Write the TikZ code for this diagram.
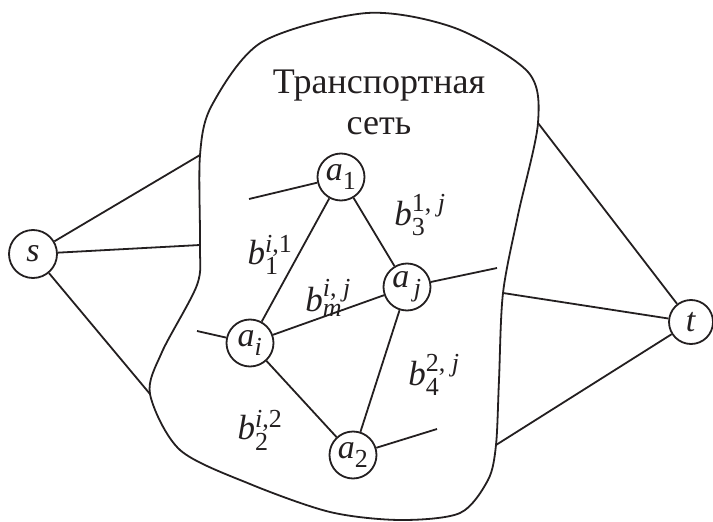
\documentclass[tikz,border=0pt]{standalone}
\usepackage{fontspec}
\setmainfont{Liberation Serif}
\usetikzlibrary{positioning}
\definecolor{ink}{HTML}{231F20}
\newcommand{\smallidx}[1]{\hbox{\fontsize{26}{30}\selectfont #1}}
\tikzset{
  vertex/.style  ={draw=ink, circle, line width=1.8pt, inner sep=0pt,
                   minimum size=47pt, text=ink,
                   font=\fontsize{34}{38}\selectfont},
  link/.style    ={draw=ink, line width=1.8pt},
  weight/.style  ={text=ink, inner sep=0pt,
                   font=\fontsize{35}{38}\selectfont},
  netname/.style ={text=ink, align=center,
                   font=\fontsize{36}{41}\selectfont},
}

\begin{document}
\begin{tikzpicture}[x=1pt, y=-1pt]
    \useasboundingbox (0,0) rectangle (713,522);

    % contour of the network
    \coordinate (s1) at (200,155);
    \coordinate (s2) at (200,245);
    \coordinate (s3) at (150,394);
    \coordinate (t1) at (538,123);
    \coordinate (t2) at (503,293);
    \coordinate (t3) at (496,445);
    \draw[link] plot[smooth cycle, tension=0.5] coordinates {
      (s1) (212,105) (262,42) (367,13) (455,28) (528,72) (t1)
      (518,215) (t2) (499,380) (t3) (488,480) (460,513) (400,520)
      (330,512) (250,484) (180,450) (s3) (162,352) (197,285) (s2)};
    \node[netname] (title) at (379,102) {Транспортная\\сеть};

    \node[vertex, minimum size=48pt] (s) at (33,254) {\textit{s}};
    \node[vertex, minimum size=44pt] (t) at (691,322) {\textit{t}};
    \node[vertex] (a1) at (341,177) {$\mathit{a}_{\smallidx{1}}$};
    \node[vertex] (aj) at (407,287) {$\mathit{a}_{\smallidx{\,\textit{j}}}$};
    \node[vertex] (ai) at (250,343) {$\mathit{a}_{\smallidx{\textit{i}}}$};
    \node[vertex] (a2) at (353,455) {$\mathit{a}_{\smallidx{2}}$};

    \coordinate (a1in)  at (249,199);
    \coordinate (ajout) at (497,268);
    \coordinate (aiin)  at (197,331);
    \coordinate (a2out) at (437,429);

    \draw[link] (s) -- (s1);
    \draw[link] (s) -- (s2);
    \draw[link] (s) -- (s3);
    \draw[link] (t1) -- (t);
    \draw[link] (t2) -- (t);
    \draw[link] (t3) -- (t);

    \draw[link] (a1in) -- (a1);
    \draw[link] (aj) -- (ajout);
    \draw[link] (aiin) -- (ai);
    \draw[link] (a2) -- (a2out);
    \draw[link] (a1) -- (ai);
    \draw[link] (a1) -- (aj);
    \draw[link] (ai) -- (aj);
    \draw[link] (ai) -- (a2);
    \draw[link] (aj) -- (a2);

    \node[weight] (w1) at (270,255) {$\mathit{b}_{\smallidx{1}}^{\smallidx{\textit{i},1}}$};
    \node[weight] (w3) at (420,215) {$\mathit{b}_{\smallidx{3}}^{\smallidx{1, \textit{j}}}$};
    \node[weight] (wm) at (328,298) {$\mathit{b}_{\smallidx{\textit{m}}}^{\smallidx{\textit{i}, \textit{j}}}$};
    \node[weight] (w4) at (434,375) {$\mathit{b}_{\smallidx{4}}^{\smallidx{2, \textit{j}}}$};
    \node[weight] (w2) at (260,430) {$\mathit{b}_{\smallidx{2}}^{\smallidx{\textit{i},2}}$};
  \end{tikzpicture}
\end{document}
